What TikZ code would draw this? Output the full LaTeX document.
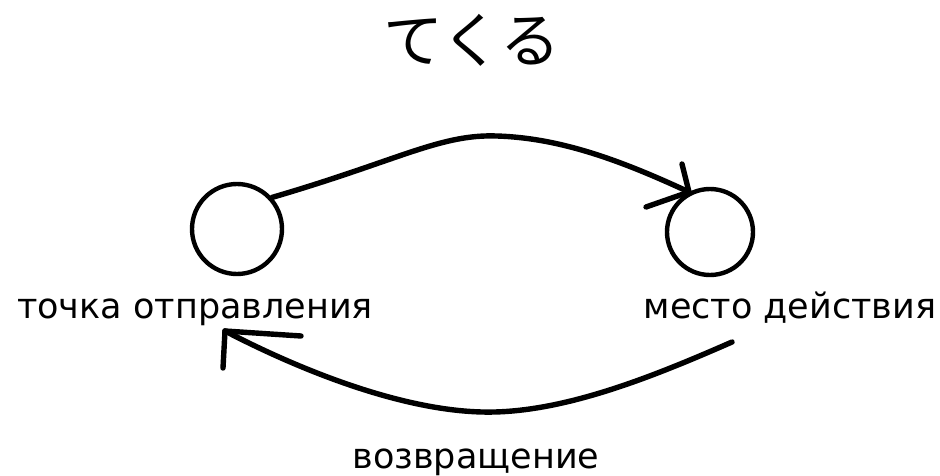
\documentclass[tikz,border=0pt]{standalone}
\usepackage{fontspec}
\setmainfont{DejaVu Sans}
\newfontfamily\jpfont{Noto Sans CJK JP}
\begin{document}
\begin{tikzpicture}[x=1pt,y=-1pt,
  ring/.style={draw,circle,line width=4.4pt,minimum size=90pt,inner sep=0pt},
  stroke/.style={line width=5.4pt,line cap=round,line join=round},
  lbl/.style={font=\fontsize{35}{40}\selectfont,inner sep=0pt,anchor=base}]
\useasboundingbox (0,0) rectangle (940,476);
\node[font=\jpfont\fontsize{60}{66}\selectfont,inner sep=0pt] (title) at (472,40) {てくる};
\node[ring] (src) at (237,229) {};
\node[ring,minimum size=86pt] (dst) at (710,232) {};
\node[lbl] (srcl) at (195,318) {точка отправления};
\node[lbl] (dstl) at (790,318) {место действия};
\node[lbl] (back) at (476,468) {возвращение};
\coordinate (a1) at (src.42);
\coordinate (t1) at (689,192);
\coordinate (h1a) at (682,164);
\coordinate (h1b) at (646,207);
\draw[stroke] (a1) .. controls (400,160) and (440,134) .. (497,136)
  .. controls (560,138) and (620,160) .. (t1);
\draw[stroke] (t1) -- (h1a);
\draw[stroke] (t1) -- (h1b);
\coordinate (b1) at (732,342);
\coordinate (t2) at (225,331);
\coordinate (h2a) at (223,368);
\coordinate (h2b) at (301,336);
\draw[stroke] (b1) .. controls (650,378) and (560,414) .. (482,412)
  .. controls (400,410) and (300,370) .. (t2);
\draw[stroke] (t2) -- (h2a);
\draw[stroke] (t2) -- (h2b);
\end{tikzpicture}
\end{document}
